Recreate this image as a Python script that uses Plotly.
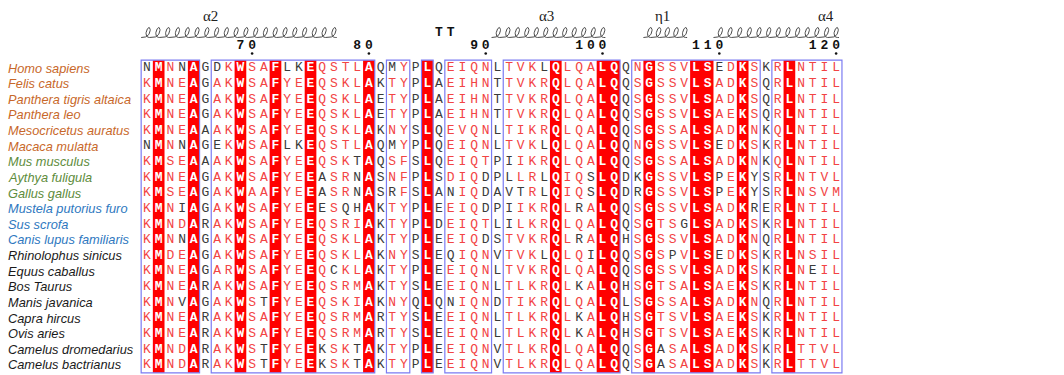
import numpy as np
import plotly.graph_objects as go

# ---------------- data ----------------
species = ["Homo sapiens", "Felis catus", "Panthera tigris altaica", "Panthera leo",
           "Mesocricetus auratus", "Macaca mulatta", "Mus musculus", "Aythya fuligula",
           "Gallus gallus", "Mustela putorius furo", "Sus scrofa", "Canis lupus familiaris",
           "Rhinolophus sinicus", "Equus caballus", "Bos Taurus", "Manis javanica",
           "Capra hircus", "Ovis aries", "Camelus dromedarius", "Camelus bactrianus"]

species_group = ["g1"] * 6 + ["g2"] * 3 + ["g3"] * 3 + ["g4"] * 8

sequences = [
    "NMNNAGDKWSAFLKEQSTLAQMYPLQEIQNLTVKLQLQALQQNGSSVLSEDKSKRLNTIL",
    "KMNEAGAKWSAFYEEQSKLAKTYPLAEIHNTTVKRQLQALQQSGSSVLSADKSQRLNTIL",
    "KMNEAGAKWSAFYEEQSKLAETYPLAEIHNTTVKRQLQALQQSGSSVLSADKSQRLNTIL",
    "KMNEAGAKWSAFYEEQSKLAETYPLAEIHNTTVKRQLQALQQSGSSVLSAEKSQRLNTIL",
    "KMNEAAAKWSAFYEEQSKLAKNYSLQEVQNLTIKRQLQALQQSGSSALSADKNKQLNTIL",
    "NMNNAGEKWSAFLKEQSTLAQMYPLQEIQNLTVKLQLQALQQNGSSVLSEDKSKRLNTIL",
    "KMSEAAAKWSAFYEEQSKTAQSFSLQEIQTPIIKRQLQALQQSGSSALSADKNKQLNTIL",
    "KMNEAGAKWSAFYEEASRNASNFPLSDIQDPLLRLQIQSLQDKGSSVLSPEKYSRLNTVL",
    "KMSEAGAKWAAFYEEASRNASRFSLANIQDAVTRLQIQSLQDRGSSVLSPEKYSRLNSVM",
    "KMNIAGAKWSAFYEEESQHAKTYPLEEIQDPIIKRQLRALQQSGSSVLSADKRERLNTIL",
    "KMNDARAKWSAFYEEQSRIAKTYPLDEIQTLILKRQLQALQQSGTSGLSADKSKRLNTIL",
    "KMNNAGAKWSAFYEEQSKLAKTYPLEEIQDSTVKRQLRALQHSGSSVLSADKNQRLNTIL",
    "KMDEAGAKWSAFYEEQSKLAKNYSLEQIQNVTVKLQLQILQQSGSPVLSEDKSKRLNSIL",
    "KMNEAGARWSAFYEEQCKLAKTYPLEEIQNLTVKRQLQALQQSGSSVLSADKSKRLNEIL",
    "KMNEARAKWSAFYEEQSRMAKTYSLEEIQNLTLKRQLKALQHSGTSALSAEKSKRLNTIL",
    "KMNVAGAKWSTFYEEQSKIAKNYQLQNIQNDTIKRQLQALQLSGSSALSADKNQRLNTIL",
    "KMNEARAKWSAFYEEQSRMARTYSLEEIQNLTLKRQLKALQHSGTSVLSAEKSKRLNTIL",
    "KMNEARAKWSAFYEEQSRMARTYSLEEIQNLTLKRQLKALQHSGTSVLSAEKSKRLNTIL",
    "KMNDARAKWSTFYEEKSKTAKTYPLEEIQNVTLKRQLQALQQSGASALSADKSKRLTTVL",
    "KMNDARAKWSTFYEEKSKTAKTYPLEEIQNVTLKRQLQALQQSGASALSADKSKRLTTVL",
]

first_residue = 61

# residues (inside similarity blocks) that are not similar to the column consensus
dissimilar = [
    [61, 64, 67, 73, 74, 82, 95, 110],
    [], [], [], [],
    [61, 64, 67, 73, 74, 82, 95, 110],
    [79, 92],
    [76, 79, 90, 92, 95, 99, 103, 110, 113],
    [76, 79, 82, 87, 90, 92, 93, 95, 99, 103, 110, 113],
    [64, 76, 78, 79, 90, 92, 98, 113],
    [92, 107],
    [64, 90, 98],
    [87, 95, 99, 106, 110],
    [77, 118],
    [98],
    [64, 71, 87],
    [98],
    [98],
    [71, 76, 79, 105],
    [71, 76, 79, 105],
]

similarity_blocks = [(61, 65), (67, 80), (82, 83), (85, 85), (87, 90),
                     (92, 101), (103, 113), (115, 120)]

number_ticks = [70, 80, 90, 100, 110, 120]

helix_names = ["α2", "α3", "η1", "α4"]
helix_start = [61, 91, 104, 110]
helix_end = [77, 100, 107, 120]
helix_label_at = [66.4, 95.2, 105.1, 119.1]

turn_label = "TT"
turn_residues = [86, 87]

# ---------------- layout / style ----------------
W, H = 1064, 375
X0_PX, COL_PX = 147.0, 11.68   # pixel centre of first residue, column width
Y0_PX, ROW_PX = 68.0, 15.63    # pixel centre of first row, row height

def px_to_x(px):
    return first_residue + (px - X0_PX) / COL_PX

def px_to_y(py):
    return (py - Y0_PX) / ROW_PX

group_colors = {"g1": "#c8682a", "g2": "#5e8c3c", "g3": "#2e78c0", "g4": "#1a1a1a"}
RED_TXT = "#f24444"
BLACK_TXT = "#3a3a3a"
STRIP_RED = "#ff0000"
BOX_BLUE = "#7b7bf2"
MONO = "Liberation Mono, Courier New, monospace"
SANS = "Liberation Sans, Arial, sans-serif"
SERIF = "Liberation Serif, Times New Roman, serif"
LETTER_SIZE = 13

n_rows = len(sequences)
n_cols = len(sequences[0])
residues = [first_residue + i for i in range(n_cols)]

conserved = [residues[i] for i in range(n_cols)
             if len(set(s[i] for s in sequences)) == 1]
in_block = set()
for a, b in similarity_blocks:
    in_block.update(range(a, b + 1))

fig = go.Figure()

# letters
groups = {"red": ([], [], []), "black": ([], [], []), "white": ([], [], [])}
for r, seq in enumerate(sequences):
    for i, ch in enumerate(seq):
        res = residues[i]
        if res in conserved:
            key = "white"
        elif res not in in_block or res in dissimilar[r]:
            key = "black"
        else:
            key = "red"
        groups[key][0].append(res)
        groups[key][1].append(r)
        groups[key][2].append(ch)

for key, color, weight in [("red", RED_TXT, "normal"), ("black", BLACK_TXT, "normal"),
                           ("white", "#ffffff", "bold")]:
    xs, ys, ts = groups[key]
    fig.add_trace(go.Scatter(
        x=xs, y=ys, text=ts, mode="text", textposition="middle center",
        textfont=dict(family=MONO, size=LETTER_SIZE, color=color, weight=weight),
        hoverinfo="skip", showlegend=False))

# conserved column strips (merged contiguous)
shapes = []
runs = []
for res in conserved:
    if runs and res == runs[-1][1] + 1:
        runs[-1][1] = res
    else:
        runs.append([res, res])
for a, b in runs:
    shapes.append(dict(type="rect", xref="x", yref="y", x0=a - 0.5, x1=b + 0.5,
                       y0=-0.5, y1=n_rows - 0.5, fillcolor=STRIP_RED,
                       line=dict(width=0), layer="below"))
# similarity boxes
for a, b in similarity_blocks:
    shapes.append(dict(type="rect", xref="x", yref="y", x0=a - 0.5, x1=b + 0.5,
                       y0=-0.5, y1=n_rows - 0.5, fillcolor="rgba(0,0,0,0)",
                       line=dict(color=BOX_BLUE, width=1.2), layer="above"))

# species labels
annotations = []
for r, (name, g) in enumerate(zip(species, species_group)):
    annotations.append(dict(x=px_to_x(6), y=r, xref="x", yref="y", text=f"<i>{name}</i>",
                            showarrow=False, xanchor="left", yanchor="middle",
                            font=dict(family=SANS, size=12.8, color=group_colors[g])))

# numbering: digits placed one per column, last digit over residue
dx, dy, dt = [], [], []
for n in number_ticks:
    s = str(n)
    for k, d in enumerate(s):
        dx.append(n - (len(s) - 1 - k))
        dy.append(px_to_y(46))
        dt.append(d)
fig.add_trace(go.Scatter(x=dx, y=dy, text=dt, mode="text", textposition="middle center",
                         textfont=dict(family=MONO, size=LETTER_SIZE, color="#111", weight="bold"),
                         hoverinfo="skip", showlegend=False))
fig.add_trace(go.Scatter(x=number_ticks, y=[px_to_y(53.5)] * len(number_ticks), mode="markers",
                         marker=dict(size=2.6, color="#111"), hoverinfo="skip", showlegend=False))

# turn
fig.add_trace(go.Scatter(x=turn_residues, y=[px_to_y(33)] * len(turn_residues),
                         text=list(turn_label), mode="text", textposition="middle center",
                         textfont=dict(family=MONO, size=LETTER_SIZE, color="#111", weight="bold"),
                         hoverinfo="skip", showlegend=False))

# helices (looped "spring" glyph, loops slanted like a cursive l)
for name, a, b, lab in zip(helix_names, helix_start, helix_end, helix_label_at):
    xa, xb = a - 0.5, b + 0.5
    wpx = (xb - xa) * COL_PX
    nl = max(1, int(round(wpx / 9.8)))
    t = np.linspace(np.pi, np.pi + 2 * np.pi * nl, 48 * nl + 1)
    xpx = (wpx - 3.0) * (t - np.pi) / (2 * np.pi * nl) - 4.0 * np.sin(t) + 1.5 * (np.cos(t) + 1)
    ypx = 37.5 - 10.0 * ((1 + np.cos(t)) / 2) ** 1.5
    fig.add_trace(go.Scatter(x=xa + xpx / COL_PX, y=px_to_y(ypx), mode="lines",
                             line=dict(color="#4a4a4a", width=1), hoverinfo="skip",
                             showlegend=False))
    annotations.append(dict(x=lab, y=px_to_y(16), xref="x", yref="y", text=name,
                            showarrow=False, xanchor="center", yanchor="middle",
                            font=dict(family=SERIF, size=15, color="#222")))

fig.update_layout(
    width=W, height=H, margin=dict(l=0, r=0, t=0, b=0),
    paper_bgcolor="white", plot_bgcolor="white",
    xaxis=dict(range=[px_to_x(0), px_to_x(W)], visible=False, fixedrange=True),
    yaxis=dict(range=[px_to_y(H), px_to_y(0)], visible=False, fixedrange=True),
    shapes=shapes, annotations=annotations, showlegend=False,
)

fig.write_html("out.html", config={"displayModeBar": False},
               post_script="document.body.style.margin='0';document.body.style.overflow='hidden';")
